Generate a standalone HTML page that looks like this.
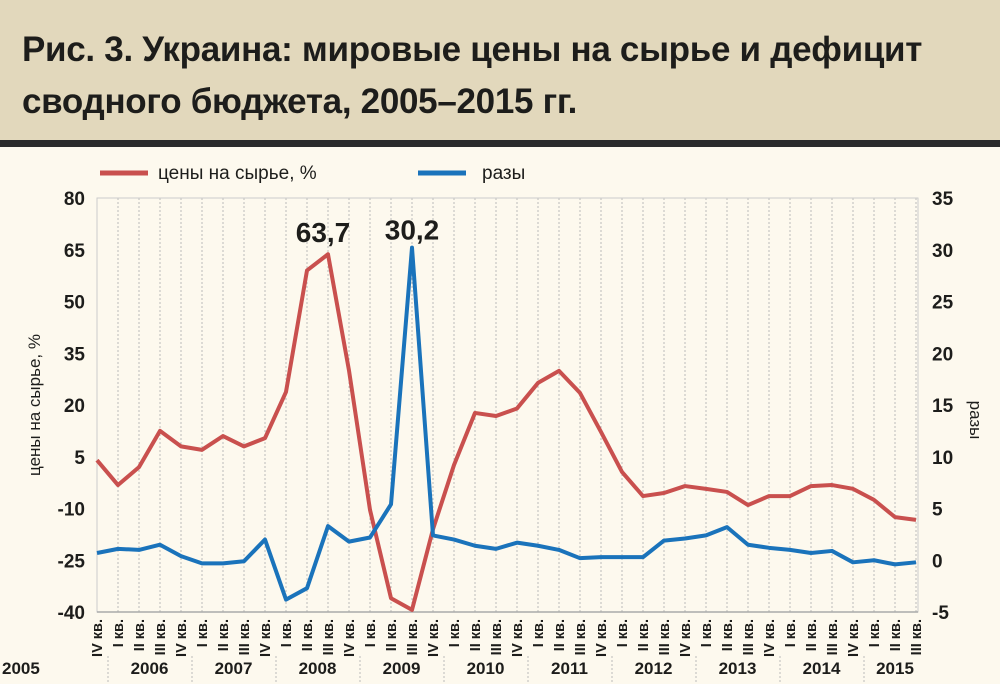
<!DOCTYPE html>
<html><head><meta charset="utf-8">
<style>
body{margin:0;width:1000px;height:684px;background:#fdf9ee;font-family:"Liberation Sans",sans-serif;overflow:hidden;position:relative}
#hdr{position:absolute;left:0;top:0;width:1000px;height:140px;background:#e2d8bc}
#bar{position:absolute;left:0;top:140px;width:1000px;height:7px;background:#2b2b2b}
#title{position:absolute;left:22px;top:24px;font-size:35px;font-weight:bold;color:#1d1d1b;line-height:52px;letter-spacing:-0.3px}
svg{position:absolute;left:0;top:0}
</style></head><body>
<div id="hdr"></div>
<div id="bar"></div>
<div id="title">Рис. 3. Украина: мировые цены на сырье и дефицит<br>сводного бюджета, 2005–2015 гг.</div>
<svg id="ch" width="1000" height="684"></svg>
<script>
const quarters=["IV кв.","I кв.","II кв.","III кв.","IV кв.","I кв.","II кв.","III кв.","IV кв.","I кв.","II кв.","III кв.","IV кв.","I кв.","II кв.","III кв.","IV кв.","I кв.","II кв.","III кв.","IV кв.","I кв.","II кв.","III кв.","IV кв.","I кв.","II кв.","III кв.","IV кв.","I кв.","II кв.","III кв.","IV кв.","I кв.","II кв.","III кв.","IV кв.","I кв.","II кв.","III кв."];
const years=["2005","2006","2007","2008","2009","2010","2011","2012","2013","2014","2015"];
const prices=[4,-3.2,2,12.5,8,7,11,8,10.4,23.8,59,63.7,30,-10.4,-36,-39.4,-16,2.6,17.7,16.8,19,26.4,29.9,23.5,12.2,0.6,-6.4,-5.5,-3.5,-4.3,-5.2,-9,-6.4,-6.4,-3.5,-3.2,-4.3,-7.5,-12.5,-13.3];
const ratio=[0.7,1.1,1.0,1.5,0.4,-0.3,-0.3,-0.1,2.0,-3.8,-2.7,3.3,1.8,2.2,5.4,30.2,2.4,2.0,1.4,1.1,1.7,1.4,1.0,0.2,0.3,0.3,0.3,1.9,2.1,2.4,3.2,1.5,1.2,1.0,0.7,0.9,-0.2,0.0,-0.4,-0.2];
const leftTicks=[80,65,50,35,20,5,-10,-25,-40];
const rightTicks=[35,30,25,20,15,10,5,0,-5];
const svg=document.getElementById('ch');const NS='http://www.w3.org/2000/svg';
const X0=97,DX=21,YT=198,YB=612;
const x=i=>X0+i*DX;
const yL=v=>YT+(80-v)*(YB-YT)/120;
const yR=v=>YT+(35-v)*(YB-YT)/40;
function mk(t,a,txt){const e=document.createElementNS(NS,t);for(const k in a)e.setAttribute(k,a[k]);if(txt!==undefined)e.textContent=txt;svg.appendChild(e);return e;}
for(let i=0;i<quarters.length;i++){
 const g=mk('line',{x1:x(i),x2:x(i),y1:YT,y2:YB,stroke:'#bbb','stroke-width':1,'stroke-dasharray':'2,2'});
 
 
 const t=mk('text',{x:0,y:0,'font-size':14.5,'font-weight':'bold',fill:'#1d1d1b','text-anchor':'end'},quarters[i]);
 t.setAttribute('transform',`translate(${x(i)+5},619) rotate(-90)`);
 
 
}
const fr=mk('rect',{x:X0,y:YT,width:x(39)-X0+2,height:YB-YT,fill:'none',stroke:'#ccc','stroke-width':1});


const ax=mk('line',{x1:X0,x2:x(39)+2,y1:YB,y2:YB,stroke:'#aaa','stroke-width':1.5});


years.forEach((yv,k)=>{
 let s=k==0?0:1+(k-1)*4, e=k==0?0:Math.min(s+3,39);
 const cx=(x(s)+x(e))/2;
 const t=mk('text',{x:k==0?2:cx,y:674,'font-size':17,'font-weight':'bold',fill:'#1d1d1b','text-anchor':k==0?'start':'middle'},yv);
 
 
 if(k>0){const l=mk('line',{x1:x(s)-10,x2:x(s)-10,y1:656,y2:684,stroke:'#bbb','stroke-dasharray':'2,2'});
 
 }
});
leftTicks.forEach(v=>{const t=mk('text',{x:85,y:yL(v)+7,'font-size':19,'font-weight':'bold',fill:'#1d1d1b','text-anchor':'end'},v);
 
 });
rightTicks.forEach(v=>{const t=mk('text',{x:932,y:yR(v)+7,'font-size':19,'font-weight':'bold',fill:'#1d1d1b','text-anchor':'start'},v);
 
 });
const lt=mk('text',{transform:'translate(40,405) rotate(-90)','font-size':17,fill:'#1d1d1b','text-anchor':'middle'},'цены на сырье, %');


const rt=mk('text',{transform:'translate(970,420) rotate(90)','font-size':17,fill:'#1d1d1b','text-anchor':'middle'},'разы');


const rp=mk('polyline',{points:prices.map((v,i)=>x(i)+','+yL(v)).join(' '),fill:'none',stroke:'#c9504e','stroke-width':4,'stroke-linejoin':'round'});


const bp=mk('polyline',{points:ratio.map((v,i)=>x(i)+','+yR(v)).join(' '),fill:'none',stroke:'#1a73bb','stroke-width':4,'stroke-linejoin':'round'});


const pk1=mk('text',{x:x(11)-5,y:yL(prices[11])-12,'font-size':28,'font-weight':'bold',fill:'#1d1d1b','text-anchor':'middle'},'63,7');


const pk2=mk('text',{x:x(15),y:yR(ratio[15])-8,'font-size':28,'font-weight':'bold',fill:'#1d1d1b','text-anchor':'middle'},'30,2');


const l1=mk('line',{x1:100,x2:148,y1:173,y2:173,stroke:'#c9504e','stroke-width':5});


const t1=mk('text',{x:158,y:179,'font-size':19,fill:'#1d1d1b'},'цены на сырье, %');


const l2=mk('line',{x1:418,x2:466,y1:173,y2:173,stroke:'#1a73bb','stroke-width':5});


const t2=mk('text',{x:482,y:179,'font-size':19,fill:'#1d1d1b'},'разы');


</script>
</body></html>
